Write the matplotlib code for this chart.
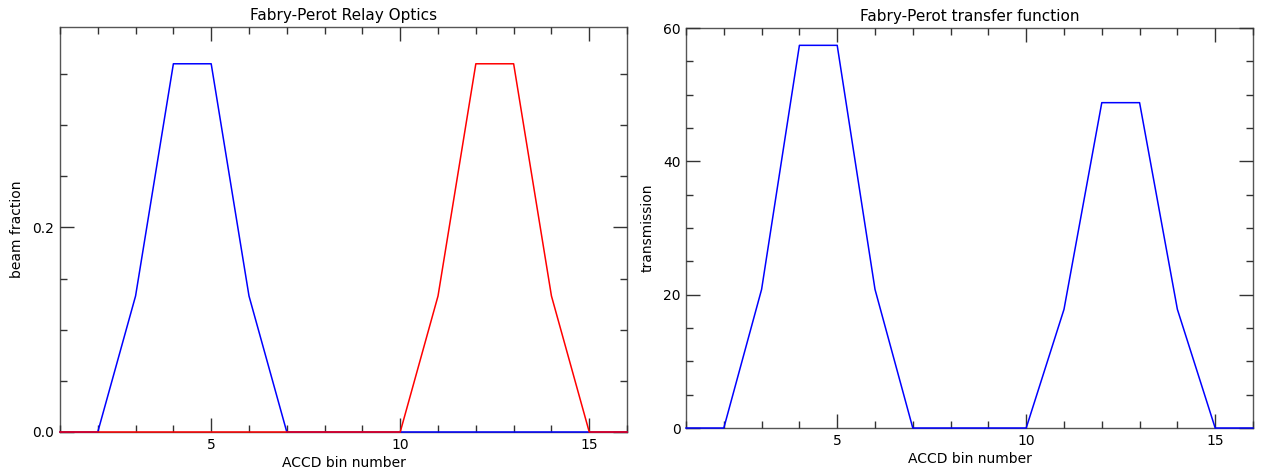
import numpy as np
import matplotlib
matplotlib.use("Agg")
import matplotlib.pyplot as plt
from matplotlib.ticker import MultipleLocator

# ACCD bins and beam/transmission profiles
bins = np.arange(1, 17)
beam_a = [0, 0, 0.133, 0.36, 0.36, 0.133, 0, 0, 0, 0, 0, 0, 0, 0, 0, 0]
beam_b = [0, 0, 0, 0, 0, 0, 0, 0, 0, 0, 0.133, 0.36, 0.36, 0.133, 0, 0]
transfer = [0, 0, 20.8, 57.4, 57.4, 20.8, 0, 0, 0, 0, 17.8, 48.8, 48.8, 17.8, 0, 0]

plt.rcParams['font.family'] = ['DejaVu Sans']
plt.rcParams['font.size'] = 10

fig = plt.figure(figsize=(12.65, 4.73), dpi=100)
ax1 = fig.add_axes([0.0474, 0.0867, 0.4483, 0.8563])
ax2 = fig.add_axes([0.5423, 0.0951, 0.4482, 0.8457])


def idl_style(ax, ymajor, yminor):
    ax.xaxis.set_major_locator(MultipleLocator(5))
    ax.xaxis.set_minor_locator(MultipleLocator(1))
    ax.yaxis.set_major_locator(MultipleLocator(ymajor))
    ax.yaxis.set_minor_locator(MultipleLocator(yminor))
    ax.tick_params(which='both', direction='in', top=True, right=True,
                   color='#333333', width=1, labelsize=10, pad=4)
    ax.tick_params(which='major', length=10)
    ax.tick_params(which='minor', length=5)
    for s in ax.spines.values():
        s.set_color('#555555')
        s.set_linewidth(1)
        s.set_zorder(1)
    ax.set_xlim(1, 16)


# lines sit above the frame so the zero level stays visible
ax1.plot(bins, beam_a, color='#0000ff', lw=1.1, clip_on=False, zorder=4)
ax1.plot(bins, beam_b, color='#ff0000', lw=1.1, clip_on=False, zorder=5)
idl_style(ax1, 0.2, 0.05)
ax1.set_ylim(0, 0.396)
ax1.yaxis.set_major_formatter(plt.FormatStrFormatter('%.1f'))
ax1.set_title('Fabry-Perot Relay Optics', fontsize=11, pad=5)
ax1.set_xlabel('ACCD bin number', fontsize=10, labelpad=3)
ax1.set_ylabel('beam fraction', fontsize=10, labelpad=6)

ax2.plot(bins, transfer, color='#0000ff', lw=1.1, clip_on=False, zorder=4)
idl_style(ax2, 20, 5)
ax2.set_ylim(0, 60)
ax2.set_title('Fabry-Perot transfer function', fontsize=11, pad=5)
ax2.set_xlabel('ACCD bin number', fontsize=10, labelpad=3)
ax2.set_ylabel('transmission', fontsize=10, labelpad=6)

fig.savefig('out.png', dpi=100)
